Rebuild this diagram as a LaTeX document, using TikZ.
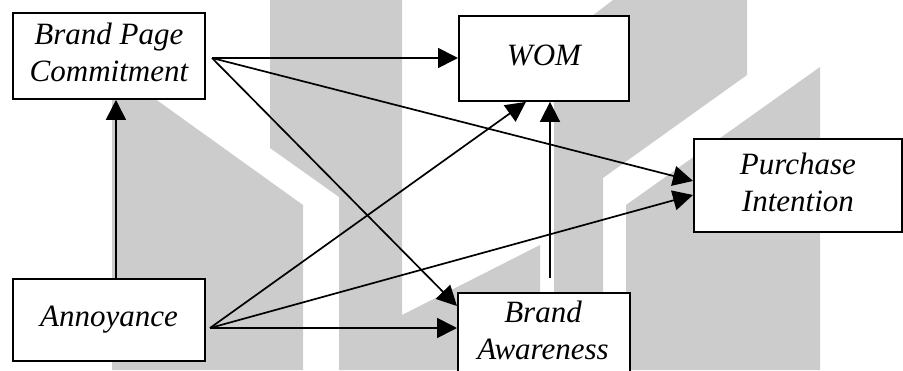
\documentclass[tikz,border=0pt]{standalone}
\usepackage{fontspec}
\setmainfont{Liberation Serif}
\usetikzlibrary{arrows.meta}
\begin{document}
\begin{tikzpicture}[x=1pt,y=-1pt,
  wm/.style={fill=gray!40, draw=none},
  txt/.style={align=center, font=\fontsize{31}{37}\selectfont\itshape, text depth=7pt},
  box/.style={txt, draw, line width=1.9pt, fill=white, anchor=north west, inner sep=0pt},
  lbl/.style={txt, inner sep=0pt},
  arr/.style={line width=1.7pt, -{Triangle[length=20pt,width=20pt]}}]
\useasboundingbox (0,0) rectangle (903,370);
\clip (0,0) rectangle (903,370);
% watermark
\fill[wm] (112,370) -- (112,68) -- (303,205) -- (303,370) -- cycle;
\fill[wm] (270,0) -- (402,0) -- (402,315) -- (540,245) -- (540,370) -- (339,370) -- (339,197) -- (270,148) -- cycle;
\fill[wm] (554,45) -- (613,0) -- (747,0) -- (747,75) -- (603,178) -- (603,370) -- (554,370) -- cycle;
\fill[wm] (626,370) -- (626,205) -- (820,67) -- (820,370) -- cycle;
% boxes
\node[box, minimum width=192pt, minimum height=86pt] (BPC) at (12,12) {Brand Page\\Commitment};
\node[box, minimum width=170pt, minimum height=85pt] (WOM) at (458,15) {WOM};
\node[box, minimum width=208pt, minimum height=93pt] (PI) at (693,138) {Purchase\\Intention};
\node[box, minimum width=192pt, minimum height=82pt] (ANN) at (12,278) {Annoyance};
\node[box, minimum width=172pt, minimum height=100pt] (BA) at (457,292) {};
\node[lbl] (BAtext) at (543,333.75) {Brand\\Awareness};
% connector start points
\coordinate (bpcOut) at (212,58);
\coordinate (annOut) at (210,328);
\coordinate (baTop) at (550,278);
% arrows
\draw[arr] (bpcOut) -- (bpcOut -| WOM.west);
\draw[arr] (bpcOut) -- ([yshift=4.5pt]PI.west);
\draw[arr] (bpcOut) -- ([yshift=-14pt]BA.north west);
\draw[arr] (annOut) -- (annOut -| BA.west);
\draw[arr] (annOut) -- ([xshift=-18pt]WOM.south);
\draw[arr] (annOut) -- ([yshift=-9.5pt]PI.west);
\draw[arr] ([xshift=7pt]ANN.north) -- ([xshift=7pt]BPC.south);
\draw[arr] (baTop) -- (baTop |- WOM.south);
\end{tikzpicture}
\end{document}
